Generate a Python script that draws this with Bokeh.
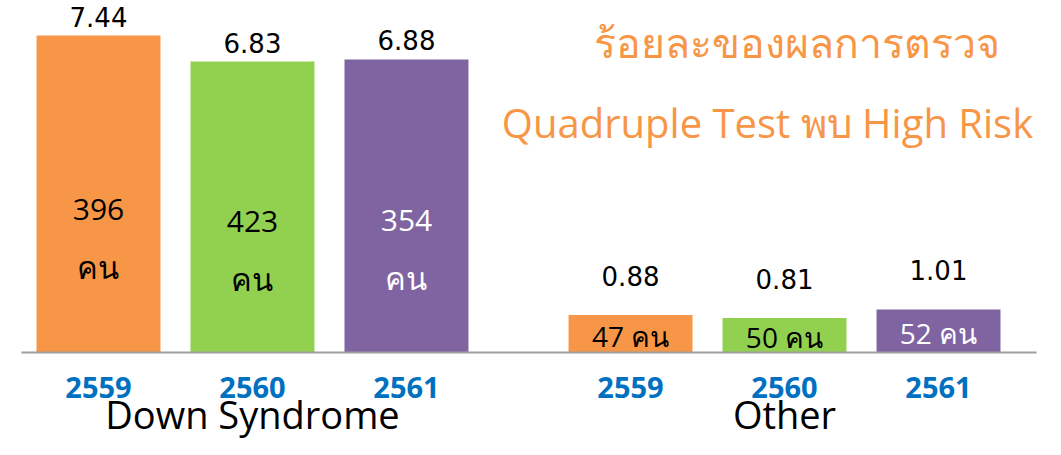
from bokeh.plotting import figure
from bokeh.models import FactorRange, Range1d, Label, ColumnDataSource
from bokeh.transform import dodge
from bokeh.core.properties import value
from bokeh.embed import file_html
from bokeh.resources import INLINE

# ---- data ----
groups = ["Down Syndrome", "Other"]
years = ["2559", "2560", "2561"]
ds_percent = [7.44, 6.83, 6.88]
other_percent = [0.88, 0.81, 1.01]
ds_count = [396, 423, 354]
other_count = [47, 50, 52]
unit_word = "คน"
title_line1 = "ร้อยละของผลการตรวจ"
title_line2 = "Quadruple Test พบ High Risk"

# ---- styling ----
bar_colors = ["#F79646", "#92D050", "#8064A2"]
inner_text_colors = ["black", "black", "white"]
tick_color = "#0070C0"
title_color = "#F79646"
NUM_FONT = value("DejaVu Sans")
TXT_FONT = value("Open Sans")

W, H = 1045, 439
BASE = 352.0          # baseline pixel from top
PX = 42.6             # pixels per percent
y_end = BASE / PX
y_start = -(H - BASE) / PX

factors = [(g, y) for g in groups for y in years]
percents = ds_percent + other_percent
n = len(years)

def make_src(sl):
    f = factors[sl]
    v = percents[sl]
    return ColumnDataSource(dict(
        x=f,
        top=v,
        color=(bar_colors * len(groups))[sl],
        inner_color=(inner_text_colors * len(groups))[sl],
        pct_label=[f"{t:.2f}" for t in v],
        inner_y=[t * 0.45 for t in v],
        year=[k[1] for k in f],
        zero=[0] * len(f),
    ))

src = make_src(slice(0, len(factors)))
ds_src = make_src(slice(0, n))
ot_src = make_src(slice(n, 2 * n))

p = figure(
    x_range=FactorRange(*factors, group_padding=0.455, range_padding=0.1364,
                        range_padding_units="absolute"),
    y_range=Range1d(y_start, y_end),
    width=W, height=H, output_backend="svg", toolbar_location=None,
    min_border_left=0, min_border_right=9, min_border_top=0, min_border_bottom=0,
)
p.axis.visible = False
p.grid.visible = False
p.outline_line_color = None
p.background_fill_color = "white"

p.vbar(x="x", top="top", bottom=0, width=0.805, color="color", source=src, line_color=None)

# baseline from just left of first bar group to past the last bar
bsrc = ColumnDataSource(dict(first=[factors[0]], last=[factors[-1]], y=[0]))
p.segment(x0=dodge("first", -0.5, range=p.x_range), x1=dodge("last", 0.8, range=p.x_range),
          y0="y", y1="y", source=bsrc, line_color="#9E9E9E", line_width=2)

# percentage labels above bars
p.text(x="x", y="top", text="pct_label", source=ds_src, text_align="center",
       text_baseline="middle", y_offset=-19, text_font=NUM_FONT,
       text_font_size="26px", text_color="black")
p.text(x="x", y="top", text="pct_label", source=ot_src, text_align="center",
       text_baseline="middle", y_offset=-39, text_font=NUM_FONT,
       text_font_size="26px", text_color="black")

# inside labels
ds_src.data["num"] = [str(c) for c in ds_count]
ds_src.data["unit"] = [unit_word] * n
ot_src.data["lab"] = [f"{c} {unit_word}" for c in other_count]
p.text(x="x", y="inner_y", text="num", source=ds_src, text_align="center",
       text_baseline="middle", text_font=TXT_FONT, text_font_size="30px",
       text_color="inner_color")
p.text(x="x", y="inner_y", text="unit", source=ds_src, text_align="center",
       text_baseline="middle", y_offset=57, text_font=TXT_FONT, text_font_size="31px",
       text_color="inner_color")
p.text(x="x", y="inner_y", text="lab", source=ot_src, text_align="center",
       text_baseline="middle", text_font=TXT_FONT, text_font_size="28px",
       text_color="inner_color")

# year tick labels
p.text(x="x", y="zero", text="year", source=src, text_align="center",
       text_baseline="middle", y_offset=35, text_font=TXT_FONT, text_font_size="29px",
       text_font_style="bold", text_color=tick_color)

# group labels
gsrc = ColumnDataSource(dict(x=groups, y=[0] * len(groups), t=groups))
p.text(x="x", y="y", text="t", source=gsrc, text_align="center",
       text_baseline="middle", y_offset=61, text_font=TXT_FONT,
       text_font_size="38px", text_color="black")

# title
p.add_layout(Label(x=796, y=H - 41, x_units="screen", y_units="screen", text=title_line1,
                   text_align="center", text_baseline="alphabetic", text_font="Open Sans",
                   text_font_size="41px", text_color=title_color))
p.add_layout(Label(x=767, y=H - 122, x_units="screen", y_units="screen", text=title_line2,
                   text_align="center", text_baseline="alphabetic", text_font="Open Sans",
                   text_font_size="40px", text_color=title_color))

open("out.html", "w").write(file_html(p, INLINE))
